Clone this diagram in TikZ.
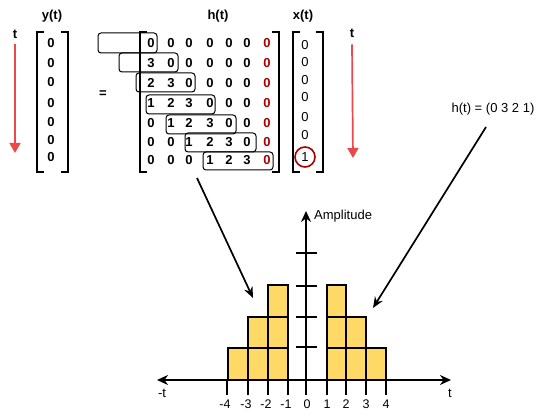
\documentclass[tikz,border=0pt]{standalone}
\usepackage{fontspec}
\setmainfont{Liberation Sans}
\usetikzlibrary{arrows,arrows.meta,positioning}
\definecolor{darkred}{RGB}{166,0,0}
\definecolor{timered}{RGB}{236,72,72}
\definecolor{baryellow}{RGB}{255,217,102}

\begin{document}
\begin{tikzpicture}[x=10pt,y=-10pt,font=\fontsize{13}{15}\selectfont]
\tikzstyle{entry}=[inner sep=0pt,font=\fontsize{13}{15}\selectfont\bfseries]
\tikzstyle{xentry}=[inner sep=0pt]
\tikzstyle{title}=[inner sep=1pt,font=\fontsize{13}{15}\selectfont\bfseries]
\tikzstyle{bracket}=[line width=1.9pt]
\tikzstyle{window}=[rounded corners=3pt,line width=1pt]
\tikzstyle{timearc}=[-{Triangle[length=10pt,width=11pt]},line width=1.7pt,draw=timered]
\tikzstyle{arc}=[-{Stealth[length=11pt,width=9pt]},line width=1.7pt]
\tikzstyle{axis}=[{Stealth[length=11pt,width=10pt]}-{Stealth[length=11pt,width=10pt]},line width=1.8pt]
\tikzstyle{bar}=[fill=baryellow,draw=black,line width=1.7pt]
\tikzstyle{tick}=[line width=1.8pt]
\tikzstyle{ticklabel}=[inner sep=1pt,font=\fontsize{12.5}{14}\selectfont]
\useasboundingbox (0,0) rectangle (54.7,41.9);
%% titles and time arrows %%
\node[title] at (5.2,1.6) (ylab) {y(t)};
\node[title] at (21.8,1.6) (hlab) {h(t)};
\node[title] at (30.3,1.6) (xlab) {x(t)};
\node[title] at (1.5,3.4) (tleft) {t};
\node[title] at (35.2,3.3) (tright) {t};
\node[title] at (10.3,9.4) (eq) {=};
\coordinate (tleftend) at (1.5,15.3);
\coordinate (trightend) at (35.3,15.8);
\draw[timearc] ([yshift=-5pt]tleft.south) -- (tleftend);
\draw[timearc] ([yshift=-6pt]tright.south) -- (trightend);
%% output vector y(t) %%
\draw[bracket] (4.4,3.2) -- (3.7,3.2) -- (3.7,17.2) -- (4.4,17.2);
\draw[bracket] (6.1,3.2) -- (6.8,3.2) -- (6.8,17.2) -- (6.1,17.2);
\node[entry] at (5.1,4.3) (Y1) {0};
\node[entry] at (5.1,6.3) (Y2) {0};
\node[entry] at (5.1,8.2) (Y3) {0};
\node[entry] at (5.1,10.3) (Y4) {0};
\node[entry] at (5.1,12.2) (Y5) {0};
\node[entry] at (5.1,14.0) (Y6) {0};
\node[entry] at (5.1,15.7) (Y7) {0};
%% convolution matrix h(t) %%
\draw[bracket] (14.7,3.2) -- (14.0,3.2) -- (14.0,17.2) -- (14.7,17.2);
\draw[bracket] (27.2,3.2) -- (27.9,3.2) -- (27.9,17.2) -- (27.2,17.2);
\node[entry] at (15.1,4.3) (H11) {0};
\node[entry] at (17.1,4.3) (H12) {0};
\node[entry] at (18.9,4.3) (H13) {0};
\node[entry] at (21.0,4.3) (H14) {0};
\node[entry] at (22.9,4.3) (H15) {0};
\node[entry] at (24.7,4.3) (H16) {0};
\node[entry,text=darkred] at (26.7,4.3) (H17) {0};
\node[entry] at (15.1,6.3) (H21) {3};
\node[entry] at (17.1,6.3) (H22) {0};
\node[entry] at (18.9,6.3) (H23) {0};
\node[entry] at (21.0,6.3) (H24) {0};
\node[entry] at (22.9,6.3) (H25) {0};
\node[entry] at (24.7,6.3) (H26) {0};
\node[entry,text=darkred] at (26.7,6.3) (H27) {0};
\node[entry] at (15.1,8.3) (H31) {2};
\node[entry] at (17.1,8.3) (H32) {3};
\node[entry] at (18.9,8.3) (H33) {0};
\node[entry] at (21.0,8.3) (H34) {0};
\node[entry] at (22.9,8.3) (H35) {0};
\node[entry] at (24.7,8.3) (H36) {0};
\node[entry,text=darkred] at (26.7,8.3) (H37) {0};
\node[entry] at (15.1,10.3) (H41) {1};
\node[entry] at (17.1,10.3) (H42) {2};
\node[entry] at (18.9,10.3) (H43) {3};
\node[entry] at (21.0,10.3) (H44) {0};
\node[entry] at (22.9,10.3) (H45) {0};
\node[entry] at (24.7,10.3) (H46) {0};
\node[entry,text=darkred] at (26.7,10.3) (H47) {0};
\node[entry] at (15.1,12.3) (H51) {0};
\node[entry] at (17.1,12.3) (H52) {1};
\node[entry] at (18.9,12.3) (H53) {2};
\node[entry] at (21.0,12.3) (H54) {3};
\node[entry] at (22.9,12.3) (H55) {0};
\node[entry] at (24.7,12.3) (H56) {0};
\node[entry,text=darkred] at (26.7,12.3) (H57) {0};
\node[entry] at (15.1,14.2) (H61) {0};
\node[entry] at (17.1,14.2) (H62) {0};
\node[entry] at (18.9,14.2) (H63) {1};
\node[entry] at (21.0,14.2) (H64) {2};
\node[entry] at (22.9,14.2) (H65) {3};
\node[entry] at (24.7,14.2) (H66) {0};
\node[entry,text=darkred] at (26.7,14.2) (H67) {0};
\node[entry] at (15.1,16.0) (H71) {0};
\node[entry] at (17.1,16.0) (H72) {0};
\node[entry] at (18.9,16.0) (H73) {0};
\node[entry] at (21.0,16.0) (H74) {1};
\node[entry] at (22.9,16.0) (H75) {2};
\node[entry] at (24.7,16.0) (H76) {3};
\node[entry,text=darkred] at (26.7,16.0) (H77) {0};
%% sliding windows %%
\draw[window] (9.8,3.3) rectangle (15.7,5.3);
\draw[window] (11.9,5.3) rectangle (17.8,7.2);
\draw[window] (13.6,7.3) rectangle (19.5,9.2);
\draw[window] (14.6,9.5) rectangle (21.5,11.4);
\draw[window] (16.6,11.5) rectangle (23.6,13.4);
\draw[window] (18.5,13.3) rectangle (25.6,15.2);
\draw[window] (20.3,15.2) rectangle (27.3,17.0);
%% input vector x(t) %%
\draw[bracket] (30.0,3.2) -- (29.3,3.2) -- (29.3,17.2) -- (30.0,17.2);
\draw[bracket] (31.6,3.2) -- (32.3,3.2) -- (32.3,17.2) -- (31.6,17.2);
\node[xentry] at (30.5,4.5) (X1) {0};
\node[xentry] at (30.5,6.2) (X2) {0};
\node[xentry] at (30.5,8.0) (X3) {0};
\node[xentry] at (30.5,9.7) (X4) {0};
\node[xentry] at (30.5,11.7) (X5) {0};
\node[xentry] at (30.5,13.5) (X6) {0};
\node[xentry,circle,draw=darkred,line width=1.6pt,minimum size=20pt] at (30.5,15.7) (X7) {1};
%% impulse response plot %%
\node at (49.3,10.9) (hval) {h(t) = (0 3 2 1)};
\node[anchor=west,inner sep=1pt] at (31.3,21.6) (amp) {Amplitude};
\node[inner sep=1pt] at (16.2,39.3) (tneg) {-t};
\node[inner sep=1pt] at (45.0,39.3) (tpos) {t};
\coordinate (tmin) at (15.7,38.0);
\coordinate (tmax) at (45.1,38.0);
\coordinate (origin) at (30.6,39.5);
\coordinate (amptop) at (30.6,21.1);
\draw[axis] (tmin) -- (tmax);
\draw[axis,-{Stealth[length=11pt,width=10pt]}] (origin) -- (amptop);
\draw[tick] (29.6,25.3) -- (31.7,25.3);
\draw[tick] (29.6,28.6) -- (31.7,28.6);
\draw[tick] (29.6,31.7) -- (31.7,31.7);
\draw[tick] (29.6,34.7) -- (31.7,34.7);
\draw[bar] (22.8,34.8) rectangle (24.8,38.0);
\draw[bar] (24.8,34.8) rectangle (26.8,38.0);
\draw[bar] (24.8,31.7) rectangle (26.8,34.8);
\draw[bar] (26.8,34.8) rectangle (28.8,38.0);
\draw[bar] (26.8,31.7) rectangle (28.8,34.8);
\draw[bar] (26.8,28.5) rectangle (28.8,31.7);
\draw[bar] (32.7,34.8) rectangle (34.6,38.0);
\draw[bar] (32.7,31.7) rectangle (34.6,34.8);
\draw[bar] (32.7,28.5) rectangle (34.6,31.7);
\draw[bar] (34.6,34.8) rectangle (36.6,38.0);
\draw[bar] (34.6,31.7) rectangle (36.6,34.8);
\draw[bar] (36.6,34.8) rectangle (38.6,38.0);
\draw[tick] (22.7,38.0) -- (22.7,39.5);
\draw[tick] (24.8,38.0) -- (24.8,39.5);
\draw[tick] (26.8,38.0) -- (26.8,39.5);
\draw[tick] (28.8,38.0) -- (28.8,39.5);
\draw[tick] (32.7,38.0) -- (32.7,39.5);
\draw[tick] (34.6,38.0) -- (34.6,39.5);
\draw[tick] (36.6,38.0) -- (36.6,39.5);
\draw[tick] (38.6,38.0) -- (38.6,39.5);
\node[ticklabel] at (22.5,40.4) (Lm4) {-4};
\node[ticklabel] at (24.6,40.4) (Lm3) {-3};
\node[ticklabel] at (26.6,40.4) (Lm2) {-2};
\node[ticklabel] at (28.6,40.4) (Lm1) {-1};
\node[ticklabel] at (30.7,40.4) (L0) {0};
\node[ticklabel] at (32.7,40.4) (L1) {1};
\node[ticklabel] at (34.6,40.4) (L2) {2};
\node[ticklabel] at (36.6,40.4) (L3) {3};
\node[ticklabel] at (38.6,40.4) (L4) {4};
%% pointers to the plot %%
\coordinate (leftstart) at (19.7,17.8);
\coordinate (leftend) at (25.3,29.8);
\coordinate (rightstart) at (48.6,12.7);
\coordinate (rightend) at (37.3,30.8);
\draw[arc] (leftstart) -- (leftend);
\draw[arc] (rightstart) -- (rightend);
\end{tikzpicture}
\end{document}
